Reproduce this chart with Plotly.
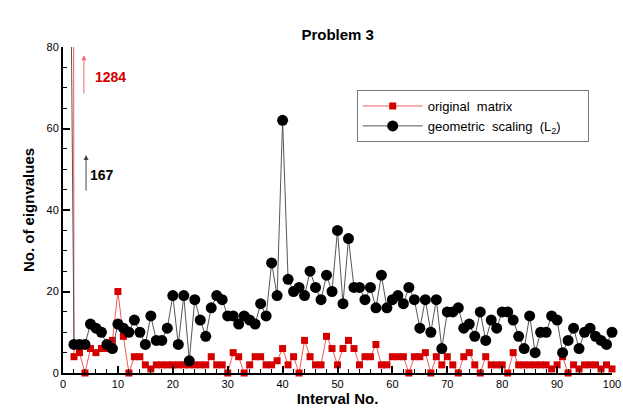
import plotly.graph_objects as go

intervals = list(range(1, 101))

original_matrix = [
    1284, 4, 5, 0, 6, 5, 6, 6, 8, 20,
    9, 0, 4, 4, 2, 1, 2, 2, 2, 2,
    2, 2, 2, 2, 2, 2, 4, 2, 2, 0,
    5, 4, 0, 2, 4, 4, 2, 2, 3, 6,
    2, 4, 0, 8, 4, 2, 2, 9, 6, 2,
    6, 8, 6, 2, 4, 4, 7, 2, 2, 4,
    4, 4, 0, 4, 4, 5, 0, 4, 2, 4,
    2, 0, 4, 5, 2, 0, 4, 2, 2, 2,
    0, 5, 2, 2, 2, 2, 2, 2, 1, 2,
    4, 0, 2, 1, 2, 2, 2, 1, 2, 1,
]

geometric_scaling = [
    167, 7, 7, 7, 12, 11, 10, 7, 6, 12,
    11, 10, 13, 10, 7, 14, 8, 8, 11, 19,
    7, 19, 3, 18, 13, 9, 16, 19, 18, 14,
    14, 12, 14, 13, 12, 17, 14, 27, 19, 62,
    23, 20, 21, 19, 25, 21, 18, 24, 20, 35,
    17, 33, 21, 21, 18, 21, 16, 24, 16, 18,
    19, 17, 21, 18, 11, 18, 10, 18, 6, 15,
    15, 16, 11, 12, 9, 15, 8, 13, 11, 15,
    15, 13, 9, 6, 14, 5, 10, 10, 14, 13,
    5, 8, 11, 6, 10, 11, 9, 8, 7, 10,
]

x_ticks = [0, 10, 20, 30, 40, 50, 60, 70, 80, 90, 100]
y_ticks = [0, 20, 40, 60, 80]

FONT = "Liberation Sans, Arial, Helvetica, sans-serif"
PAD = "&nbsp;" * 6

fig = go.Figure()
fig.add_trace(go.Scatter(
    x=intervals, y=original_matrix, name="original  matrix" + PAD,
    mode="lines+markers",
    line=dict(color="#ee5a5a", width=1),
    marker=dict(symbol="square", size=7, color="#d40000"),
    cliponaxis=False,
))
fig.add_trace(go.Scatter(
    x=intervals, y=geometric_scaling, name="geometric  scaling  (L<sub>2</sub>)" + PAD,
    mode="lines+markers",
    line=dict(color="#555555", width=1),
    marker=dict(symbol="circle", size=11, color="black"),
    cliponaxis=False,
))

fig.add_annotation(x=3.8, y=78, ax=3.8, ay=68.2, xref="x", yref="y", axref="x", ayref="y",
                   showarrow=True, arrowhead=2, arrowsize=1, arrowwidth=1, arrowcolor="#ee6a6a", text="")
fig.add_annotation(x=8.6, y=72.6, text="<b>1284</b>", showarrow=False,
                   font=dict(family=FONT, size=14, color="#d40000"))
fig.add_annotation(x=4.2, y=53.5, ax=4.2, ay=44.4, xref="x", yref="y", axref="x", ayref="y",
                   showarrow=True, arrowhead=2, arrowsize=1, arrowwidth=1, arrowcolor="#444444", text="")
fig.add_annotation(x=7.1, y=48.6, text="<b>167</b>", showarrow=False,
                   font=dict(family=FONT, size=14, color="black"))

fig.update_layout(
    width=623, height=418,
    margin=dict(l=63, r=11, t=47, b=45),
    paper_bgcolor="white", plot_bgcolor="white",
    font=dict(family=FONT, size=11, color="black"),
    title=dict(text="<b>Problem 3</b>", x=0.542, xanchor="center", xref="container",
               y=0.918, yanchor="middle", yref="container", automargin=False,
               font=dict(family=FONT, size=15, color="black")),
    showlegend=True,
    legend=dict(x=0.535, y=0.868, xanchor="left", yanchor="top",
                bordercolor="#777777", borderwidth=1, bgcolor="white",
                font=dict(family=FONT, size=13, color="black"),
                itemwidth=60, tracegroupgap=0),
    xaxis=dict(range=[0, 100], tickvals=x_ticks, ticks="inside", ticklen=7, tickwidth=2,
               tickcolor="black", showline=True, linecolor="black", linewidth=2,
               showgrid=False, zeroline=False, automargin=False,
               minor=dict(dtick=2, ticks="inside", ticklen=4, tickwidth=1, tickcolor="black"),
               tickfont=dict(family=FONT, size=11),
               title=dict(text="<b>Interval No.</b>", font=dict(family=FONT, size=15), standoff=0)),
    yaxis=dict(range=[0, 80], tickvals=y_ticks, ticks="inside", ticklen=7, tickwidth=2,
               tickcolor="black", showline=True, linecolor="black", linewidth=2,
               showgrid=False, zeroline=False, automargin=False,
               minor=dict(dtick=5, ticks="inside", ticklen=4, tickwidth=1, tickcolor="black"),
               tickfont=dict(family=FONT, size=11),
               title=dict(text="<b>No. of eignvalues</b>", font=dict(family=FONT, size=15), standoff=8)),
)

fig.write_html("out.html", config={"displayModeBar": False},
               post_script="document.body.style.margin='0';")
